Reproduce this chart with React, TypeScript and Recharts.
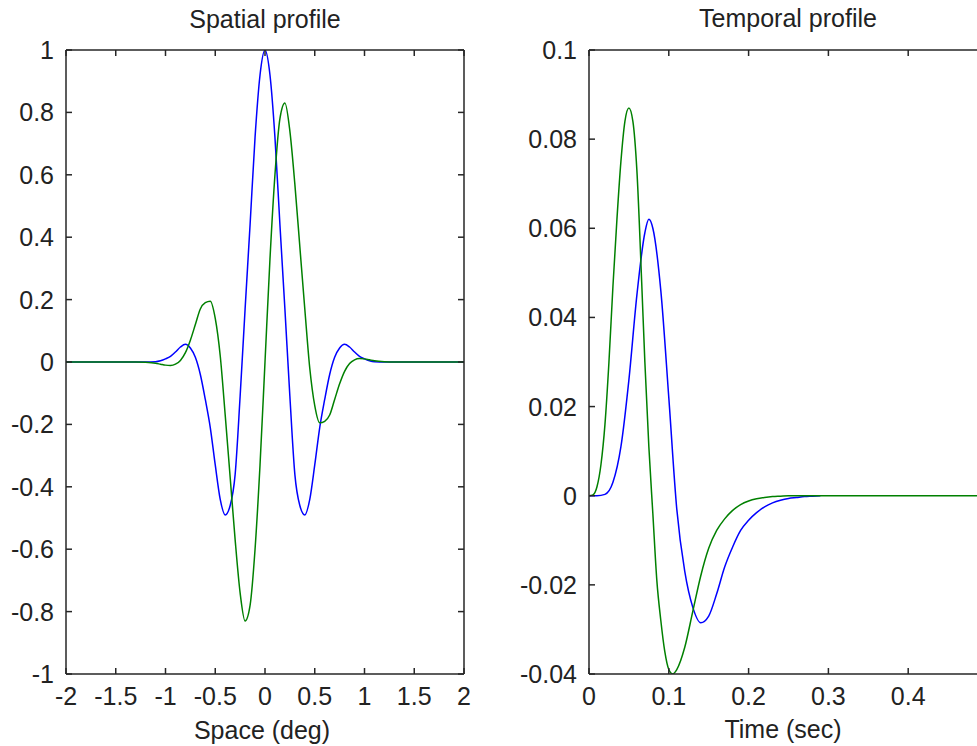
import React from 'react';
import { LineChart, Line, XAxis, YAxis } from 'recharts';

// ---------- Spatial profile data ----------
const spaceX = [-2, -1.5, -1.3, -1.2, -1.1, -1.05, -1.0, -0.95, -0.9, -0.85, -0.8, -0.75, -0.7, -0.65, -0.6, -0.55, -0.5, -0.45, -0.4, -0.35, -0.3, -0.25, -0.2, -0.15, -0.1, -0.05, 0,
  0.05, 0.1, 0.15, 0.2, 0.25, 0.3, 0.35, 0.4, 0.45, 0.5, 0.55, 0.6, 0.65, 0.7, 0.75, 0.8, 0.85, 0.9, 0.95, 1.0, 1.05, 1.1, 1.2, 1.3, 1.5, 2];
const spatialBlue = [0, 0, 0, 0, 0.001, 0.004, 0.01, 0.018, 0.032, 0.048, 0.057, 0.045, 0.015, -0.04, -0.12, -0.21, -0.33, -0.44, -0.49, -0.46, -0.36, -0.11, 0.17, 0.44, 0.72, 0.92, 1.0,
  0.92, 0.72, 0.44, 0.17, -0.11, -0.36, -0.46, -0.49, -0.44, -0.33, -0.21, -0.12, -0.04, 0.015, 0.045, 0.057, 0.048, 0.032, 0.018, 0.01, 0.004, 0.001, 0, 0, 0, 0];
const spatialGreen = [0, 0, 0, -0.001, -0.004, -0.007, -0.01, -0.011, -0.007, 0.005, 0.03, 0.07, 0.12, 0.17, 0.19, 0.195, 0.14, 0.02, -0.17, -0.37, -0.57, -0.74, -0.83, -0.78, -0.6, -0.33, 0,
  0.33, 0.6, 0.78, 0.83, 0.74, 0.57, 0.37, 0.17, -0.02, -0.14, -0.195, -0.19, -0.17, -0.12, -0.07, -0.03, -0.005, 0.007, 0.011, 0.01, 0.007, 0.004, 0.001, 0, 0, 0];

// ---------- Temporal profile data ----------
const timeBlueT = [0, 0.01, 0.02, 0.03, 0.04, 0.05, 0.06, 0.07, 0.075, 0.08, 0.09, 0.1, 0.11, 0.12, 0.13, 0.14, 0.15, 0.16, 0.17, 0.18, 0.19, 0.2, 0.21, 0.22, 0.23, 0.24, 0.25, 0.26, 0.27, 0.28, 0.29];
const timeBlueV = [0, 0, 0.0003, 0.003, 0.011, 0.026, 0.045, 0.059, 0.062, 0.06, 0.046, 0.022, -0.003, -0.017, -0.025, -0.0285, -0.027, -0.022, -0.016, -0.0115, -0.0078, -0.0055, -0.0038, -0.0025, -0.0016, -0.001, -0.0006, -0.0004, -0.0002, -0.0001, 0];
const timeGreenT = [0, 0.005, 0.01, 0.015, 0.02, 0.025, 0.03, 0.035, 0.04, 0.045, 0.05, 0.055, 0.06, 0.066, 0.07, 0.075, 0.08, 0.085, 0.09, 0.095, 0.1, 0.105, 0.11, 0.12, 0.13, 0.14, 0.15, 0.16, 0.17, 0.18, 0.19, 0.2, 0.21, 0.22, 0.23, 0.24, 0.25, 0.3, 0.4, 0.5];
const timeGreenV = [0, 0.0002, 0.002, 0.007, 0.016, 0.03, 0.047, 0.062, 0.075, 0.084, 0.087, 0.084, 0.073, 0.048, 0.03, 0.011, -0.004, -0.019, -0.028, -0.035, -0.039, -0.04, -0.039, -0.034, -0.026, -0.018, -0.0118, -0.0078, -0.0052, -0.0033, -0.002, -0.0012, -0.0007, -0.0004, -0.0002, -0.0001, 0, 0, 0, 0];

// ---------- Ticks ----------
const spaceTicks = [-2, -1.5, -1, -0.5, 0, 0.5, 1, 1.5, 2];
const spaceTickLabels = ['-2', '-1.5', '-1', '-0.5', '0', '0.5', '1', '1.5', '2'];
const spatialYTicks = [-1, -0.8, -0.6, -0.4, -0.2, 0, 0.2, 0.4, 0.6, 0.8, 1];
const spatialYLabels = ['-1', '-0.8', '-0.6', '-0.4', '-0.2', '0', '0.2', '0.4', '0.6', '0.8', '1'];
const timeTicks = [0, 0.1, 0.2, 0.3, 0.4];
const timeTickLabels = ['0', '0.1', '0.2', '0.3', '0.4'];
const temporalYTicks = [-0.04, -0.02, 0, 0.02, 0.04, 0.06, 0.08, 0.1];
const temporalYLabels = ['-0.04', '-0.02', '0', '0.02', '0.04', '0.06', '0.08', '0.1'];

const spatialBlueData = spaceX.map((x, i) => ({ x, v: spatialBlue[i] }));
const spatialGreenData = spaceX.map((x, i) => ({ x, v: spatialGreen[i] }));
const temporalBlueData = timeBlueT.map((x, i) => ({ x, v: timeBlueV[i] }));
const temporalGreenData = timeGreenT.map((x, i) => ({ x, v: timeGreenV[i] }));

const FONT = '"Liberation Sans", Arial, Helvetica, sans-serif';
const AX = '#262626';
const TXT = '#222';
const FS = 25;
const TL = 6;

function labelFor(ticks: number[], labels: string[], v: number) {
  let best = 0;
  for (let i = 0; i < ticks.length; i++) if (Math.abs(ticks[i] - v) < Math.abs(ticks[best] - v)) best = i;
  return labels[best];
}

const makeBottomTick = (ticks: number[], labels: string[]) => (props: any) => {
  const { x, y, payload } = props;
  return (
    <g>
      <line x1={x} y1={y} x2={x} y2={y - TL} stroke={AX} strokeWidth={1.5} />
      <text x={x} y={y + 31} textAnchor="middle" fontFamily={FONT} fontSize={FS} fill={TXT}>
        {labelFor(ticks, labels, payload.value)}
      </text>
    </g>
  );
};
const TopTick = (props: any) => {
  const { x, y } = props;
  return <line x1={x} y1={y} x2={x} y2={y + TL} stroke={AX} strokeWidth={1.5} />;
};
const makeLeftTick = (ticks: number[], labels: string[]) => (props: any) => {
  const { x, y, payload } = props;
  return (
    <g>
      <line x1={x} y1={y} x2={x + TL} y2={y} stroke={AX} strokeWidth={1.5} />
      <text x={x - 12} y={y + 9} textAnchor="end" fontFamily={FONT} fontSize={FS} fill={TXT}>
        {labelFor(ticks, labels, payload.value)}
      </text>
    </g>
  );
};
const RightTick = (props: any) => {
  const { x, y } = props;
  return <line x1={x} y1={y} x2={x - TL} y2={y} stroke={AX} strokeWidth={1.5} />;
};

const SpaceBottom = makeBottomTick(spaceTicks, spaceTickLabels);
const SpaceLeft = makeLeftTick(spatialYTicks, spatialYLabels);
const TimeBottom = makeBottomTick(timeTicks, timeTickLabels);
const TimeLeft = makeLeftTick(temporalYTicks, temporalYLabels);

const axisLine = { stroke: AX, strokeWidth: 1.5 };

const textStyle: React.CSSProperties = {
  position: 'absolute',
  fontFamily: FONT,
  fontSize: FS,
  lineHeight: '25px',
  color: TXT,
  whiteSpace: 'nowrap',
  transform: 'translateX(-50%)',
};

export default function App() {
  return (
    <div style={{ position: 'absolute', left: 0, top: 0, width: 977, height: 746, overflow: 'hidden', background: '#fff' }}>
      {/* Spatial profile */}
      <div style={{ position: 'absolute', left: 0, top: 0 }}>
        <LineChart width={480} height={746} margin={{ top: 40, left: 16, right: 6, bottom: 32 }}>
          <XAxis xAxisId="b" dataKey="x" type="number" domain={[-2, 2]} ticks={spaceTicks} allowDataOverflow
            axisLine={axisLine} tickLine={false} tickSize={0} tickMargin={0} height={40} tick={SpaceBottom} interval={0} />
          <XAxis xAxisId="t" orientation="top" dataKey="x" type="number" domain={[-2, 2]} ticks={spaceTicks} allowDataOverflow
            axisLine={axisLine} tickLine={false} tickSize={0} tickMargin={0} height={10} tick={TopTick} interval={0} />
          <YAxis yAxisId="l" type="number" domain={[-1, 1]} ticks={spatialYTicks} allowDataOverflow
            axisLine={axisLine} tickLine={false} tickSize={0} tickMargin={0} width={50} tick={SpaceLeft} interval={0} />
          <YAxis yAxisId="r" orientation="right" type="number" domain={[-1, 1]} ticks={spatialYTicks} allowDataOverflow
            axisLine={axisLine} tickLine={false} tickSize={0} tickMargin={0} width={10} tick={RightTick} interval={0} />
          <Line xAxisId="b" yAxisId="l" data={spatialBlueData} dataKey="v" type="monotone" stroke="#0000ff" strokeWidth={1.5} dot={false} isAnimationActive={false} />
          <Line xAxisId="b" yAxisId="l" data={spatialGreenData} dataKey="v" type="monotone" stroke="#008000" strokeWidth={1.5} dot={false} isAnimationActive={false} />
        </LineChart>
      </div>
      <div style={{ ...textStyle, left: 265, top: 7 }}>Spatial profile</div>
      <div style={{ ...textStyle, left: 262, top: 718 }}>Space (deg)</div>

      {/* Temporal profile */}
      <div style={{ position: 'absolute', left: 480, top: 0 }}>
        <LineChart width={540} height={746} margin={{ top: 40, left: 49, right: 22, bottom: 32 }}>
          <XAxis xAxisId="b" dataKey="x" type="number" domain={[0, 0.5]} ticks={timeTicks} allowDataOverflow
            axisLine={axisLine} tickLine={false} tickSize={0} tickMargin={0} height={40} tick={TimeBottom} interval={0} />
          <XAxis xAxisId="t" orientation="top" dataKey="x" type="number" domain={[0, 0.5]} ticks={timeTicks} allowDataOverflow
            axisLine={axisLine} tickLine={false} tickSize={0} tickMargin={0} height={10} tick={TopTick} interval={0} />
          <YAxis yAxisId="l" type="number" domain={[-0.04, 0.1]} ticks={temporalYTicks} allowDataOverflow
            axisLine={axisLine} tickLine={false} tickSize={0} tickMargin={0} width={60} tick={TimeLeft} interval={0} />
          <YAxis yAxisId="r" orientation="right" type="number" domain={[-0.04, 0.1]} ticks={temporalYTicks} allowDataOverflow
            axisLine={axisLine} tickLine={false} tickSize={0} tickMargin={0} width={10} tick={RightTick} interval={0} />
          <Line xAxisId="b" yAxisId="l" data={temporalBlueData} dataKey="v" type="monotone" stroke="#0000ff" strokeWidth={1.5} dot={false} isAnimationActive={false} />
          <Line xAxisId="b" yAxisId="l" data={temporalGreenData} dataKey="v" type="monotone" stroke="#008000" strokeWidth={1.5} dot={false} isAnimationActive={false} />
        </LineChart>
      </div>
      <div style={{ ...textStyle, left: 788, top: 6 }}>Temporal profile</div>
      <div style={{ ...textStyle, left: 783, top: 717 }}>Time (sec)</div>
    </div>
  );
}
